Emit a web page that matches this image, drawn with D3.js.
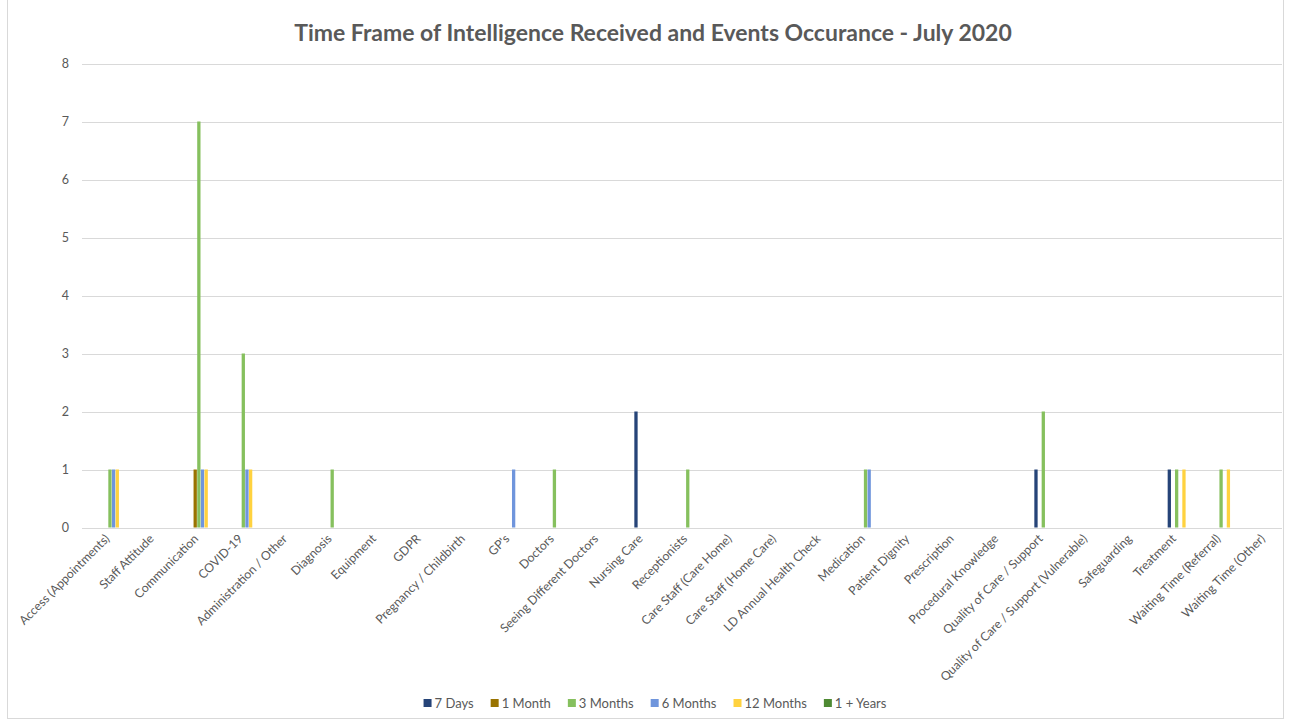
<!DOCTYPE html>
<html><head><meta charset="utf-8">
<script src="https://cdn.jsdelivr.net/npm/d3@7"></script>
<style>
html,body{margin:0;padding:0;background:#fff;}
svg{display:block;font-family:Lato,"Open Sans",sans-serif;}
</style></head>
<body>
<svg id="c" width="1303" height="722"></svg>
<script>
const categories = ["Access (Appointments)","Staff Attitude","Communication","COVID-19","Administration / Other","Diagnosis","Equipment","GDPR","Pregnancy / Childbirth","GP's","Doctors","Seeing Different Doctors","Nursing Care","Receptionists","Care Staff (Care Home)","Care Staff (Home Care)","LD Annual Health Check","Medication","Patient Dignity","Prescription","Procedural Knowledge","Quality of Care / Support","Quality of Care / Support (Vulnerable)","Safeguarding","Treatment","Waiting Time (Referral)","Waiting Time (Other)"];
const seriesNames = ["7 Days","1 Month","3 Months","6 Months","12 Months","1 + Years"];
const seriesColors = ["#264478","#997300","#86c05e","#6f95dc","#ffd23f","#4e8a33"];
const days7    = [0,0,0,0,0,0,0,0,0,0,0,0,2,0,0,0,0,0,0,0,0,1,0,0,1,0,0];
const month1   = [0,0,1,0,0,0,0,0,0,0,0,0,0,0,0,0,0,0,0,0,0,0,0,0,0,0,0];
const months3  = [1,0,7,3,0,1,0,0,0,0,1,0,0,1,0,0,0,1,0,0,0,2,0,0,1,1,0];
const months6  = [1,0,1,1,0,0,0,0,0,1,0,0,0,0,0,0,0,1,0,0,0,0,0,0,0,0,0];
const months12 = [1,0,1,1,0,0,0,0,0,0,0,0,0,0,0,0,0,0,0,0,0,0,0,0,1,1,0];
const years1   = [0,0,0,0,0,0,0,0,0,0,0,0,0,0,0,0,0,0,0,0,0,0,0,0,0,0,0];
const yTicks = [0,1,2,3,4,5,6,7,8];
const titleText = "Time Frame of Intelligence Received and Events Occurance - July 2020";

const seriesValues = [days7, month1, months3, months6, months12, years1];
const svg = d3.select("#c");
const textCol = "#595959";

// chart frame
svg.append("rect").attr("x",7.5).attr("y",-1).attr("width",1276).attr("height",719.5)
  .attr("fill","none").attr("stroke","#d9d9d9").attr("stroke-width",1);

const plot = {left:82, right:1282, top:63.5, bottom:527.5};
const x = d3.scaleBand().domain(categories).range([plot.left, plot.right]).paddingInner(0).paddingOuter(0);
const bw = x.bandwidth();
const xs = d3.scaleBand().domain(seriesNames).range([bw*0.4275, bw*0.9135]).paddingInner(0.1);
const y = d3.scaleLinear().domain([0,8]).range([plot.bottom, plot.top]);

// gridlines
svg.append("g").selectAll("line").data(yTicks).join("line")
  .attr("x1",plot.left).attr("x2",plot.right)
  .attr("y1",d=>Math.round(y(d))+0.5).attr("y2",d=>Math.round(y(d))+0.5)
  .attr("stroke","#d9d9d9").attr("stroke-width",1);

// y labels
svg.append("g").selectAll("text").data(yTicks).join("text")
  .attr("x",69).attr("y",d=>y(d)).attr("dy","0.35em")
  .attr("text-anchor","end").attr("fill",textCol).attr("font-size",12.5).text(d=>d);

// bars
const rows = [];
seriesNames.forEach((s,si)=>{
  categories.forEach((c,ci)=>{
    const v = seriesValues[si][ci];
    if (v>0) rows.push({c, s, v, color: seriesColors[si]});
  });
});
svg.append("g").selectAll("rect").data(rows).join("rect")
  .attr("x",d=>x(d.c)+xs(d.s)).attr("width",xs.bandwidth())
  .attr("y",d=>y(d.v)).attr("height",d=>y(0)-y(d.v))
  .attr("fill",d=>d.color);

// x labels
svg.append("g").selectAll("text").data(categories).join("text")
  .attr("transform",d=>`translate(${x(d)+bw/2+6},${plot.bottom+12}) rotate(-45)`)
  .attr("text-anchor","end").attr("fill",textCol).attr("font-size",12.2).text(d=>d);

// title
const t = svg.append("text").attr("x",653).attr("y",41).attr("text-anchor","middle")
  .attr("fill",textCol).attr("font-weight","bold").attr("font-size",21).text(titleText);
const tw = t.node().getComputedTextLength();
t.attr("font-size", 21*718/tw);

// legend
const lg = svg.append("g");
const legendStarts = [];
let cx = 0;
const items = lg.selectAll("g").data(seriesNames).join("g");
items.append("rect").attr("width",8).attr("height",8).attr("y",-4).attr("fill",(d,i)=>seriesColors[i]);
items.append("text").attr("x",11).attr("dy","0.35em").attr("font-size",13).attr("fill",textCol).text(d=>d);
items.each(function(){
  const w = d3.select(this).select("text").node().getComputedTextLength();
  legendStarts.push(cx);
  cx += 11 + w + 17;
});
const totalW = cx - 17;
const lx0 = 655 - totalW/2;
items.attr("transform",(d,i)=>`translate(${lx0+legendStarts[i]},703)`);
</script>
</body></html>
